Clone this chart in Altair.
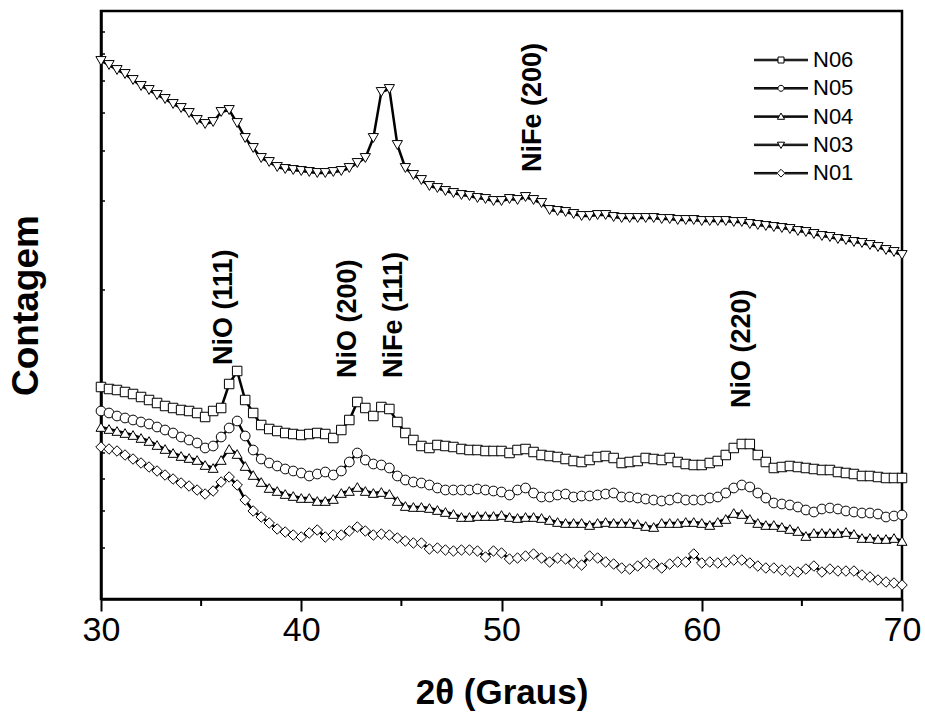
import altair as alt
import pandas as pd

# 2-theta grid (degrees)
two_theta = [round(30 + 0.4 * i, 1) for i in range(101)]

# Intensities (arbitrary units, position on the log-count axis)
n06 = [212, 210, 209, 207, 205, 202, 199, 196, 193, 191, 189,
       188, 186, 182, 188, 191, 215, 228, 199, 186, 174,
       170, 168, 166, 165, 164, 165, 166, 165, 161, 169,
       179, 197, 191, 183, 192, 190, 177, 166, 159, 153,
       151, 154, 153, 152, 150, 149, 149, 148, 148, 148,
       146, 149, 150, 147, 144, 143, 142, 140, 138, 137,
       139, 142, 143, 141, 136, 137, 138, 141, 140, 139,
       141, 137, 135, 134, 134, 136, 138, 144, 151, 155,
       155, 144, 137, 131, 132, 133, 132, 131, 130, 129,
       129, 127, 126, 125, 123, 123, 122, 121, 121, 121]

n05 = [188, 186, 183, 181, 179, 177, 175, 172, 169, 166, 162,
       159, 156, 151, 153, 162, 171, 178, 163, 149, 140,
       136, 133, 130, 128, 126, 123, 125, 127, 124, 128,
       137, 146, 139, 135, 134, 131, 123, 119, 117, 116,
       114, 111, 109, 109, 109, 109, 110, 109, 108, 107,
       104, 109, 111, 106, 102, 102, 104, 105, 102, 103,
       103, 104, 105, 106, 102, 102, 101, 100, 99, 98,
       99, 101, 99, 99, 99, 101, 102, 106, 111, 114,
       112, 106, 101, 96, 95, 94, 92, 89, 87, 90,
       91, 90, 88, 87, 86, 86, 85, 82, 83, 84]

n04 = [172, 170, 168, 166, 164, 161, 158, 154, 150, 146, 143,
       141, 139, 134, 131, 139, 150, 145, 133, 124, 117,
       111, 108, 105, 103, 101, 101, 98, 98, 100, 106,
       108, 112, 108, 106, 107, 105, 98, 93, 92, 92,
       91, 89, 87, 85, 82, 82, 83, 83, 83, 84,
       82, 81, 82, 82, 81, 79, 77, 76, 76, 76,
       74, 76, 77, 76, 76, 76, 75, 73, 72, 76,
       76, 76, 77, 77, 76, 74, 77, 80, 86, 85,
       80, 76, 74, 74, 72, 70, 68, 63, 66, 66,
       66, 66, 67, 65, 61, 61, 60, 60, 61, 58]

n03 = [538, 534, 529, 525, 519, 513, 509, 504, 500, 495, 491,
       486, 479, 475, 477, 487, 489, 476, 461, 451, 441,
       437, 432, 430, 429, 428, 427, 426, 426, 427, 428,
       431, 436, 441, 461, 507, 510, 454, 431, 424, 419,
       413, 411, 408, 406, 404, 403, 401, 400, 398, 398,
       400, 399, 402, 399, 396, 389, 388, 387, 385, 383,
       383, 384, 384, 382, 381, 381, 381, 381, 381, 380,
       380, 379, 379, 379, 378, 378, 378, 378, 377, 377,
       375, 374, 373, 372, 371, 370, 368, 367, 365, 363,
       362, 360, 359, 357, 356, 354, 352, 349, 347, 344]

n01 = [152, 150, 148, 144, 140, 136, 132, 128, 124, 120, 116,
       113, 109, 105, 108, 117, 122, 114, 99, 88, 82,
       76, 70, 67, 64, 62, 66, 69, 62, 64, 64,
       68, 72, 68, 64, 65, 64, 61, 58, 56, 56,
       50, 51, 49, 48, 49, 49, 48, 42, 48, 46,
       40, 41, 43, 45, 41, 37, 41, 40, 36, 34,
       43, 41, 37, 35, 31, 30, 33, 36, 35, 31,
       35, 37, 37, 45, 36, 37, 36, 37, 39, 39,
       36, 33, 31, 31, 29, 28, 27, 30, 33, 27,
       30, 28, 28, 28, 24, 22, 19, 17, 16, 14]

series_names = ["N06", "N05", "N04", "N03", "N01"]
series_values = [n06, n05, n04, n03, n01]
marker_shapes = ["square", "circle", "triangle-up", "triangle-down", "diamond"]
marker_sizes = [90, 110, 160, 160, 150]

# peak labels
peak_labels = ["NiO (111)", "NiO (200)", "NiFe (111)", "NiO (220)", "NiFe (200)"]
peak_x = [36.15, 42.35, 44.65, 62.0, 51.55]
peak_y = [234, 221, 221, 191, 427]

# axis ticks
major_x = [30, 40, 50, 60, 70]
minor_x = [35, 45, 55, 65]
y_tick_values = [51, 88, 120, 146, 169, 189, 208, 309, 398, 448, 486, 518, 545, 567]

FONT = "Liberation Sans"
W, H = 801, 588

rows = []
for name, vals in zip(series_names, series_values):
    for xv, yv in zip(two_theta, vals):
        rows.append({"serie": name, "x": xv, "y": yv})
df = pd.DataFrame(rows)

xscale = alt.Scale(domain=[30, 70], nice=False, zero=False)
yscale = alt.Scale(domain=[0, 588], nice=False, zero=False)

xaxis = alt.Axis(values=major_x, format="d", tickSize=12, tickWidth=2, tickColor="black",
                 labelFont=FONT, labelFontSize=34, labelColor="black", labelPadding=2,
                 domainColor="black", domainWidth=2.5, grid=False,
                 title="2θ (Graus)", titleFont=FONT, titleFontSize=35, titleFontWeight="bold",
                 titleColor="black", titlePadding=28, labelFlush=False)
yaxis = alt.Axis(labels=False, ticks=False, grid=False, domainColor="black", domainWidth=2.5,
                 title="Contagem", titleFont=FONT, titleFontSize=37, titleFontWeight="bold",
                 titleColor="black", titlePadding=56)


def xenc():
    return alt.X("x:Q", scale=xscale, axis=xaxis)


def yenc():
    return alt.Y("y:Q", scale=yscale, axis=yaxis)


ytick_layer = alt.Chart(pd.DataFrame({"y": y_tick_values})).mark_rule(
    color="black", strokeWidth=1.5).encode(y=yenc(), x=alt.value(0), x2=alt.value(4))

minor_layer = alt.Chart(pd.DataFrame({"x": minor_x})).mark_rule(
    color="black", strokeWidth=2).encode(x=xenc(), y=alt.value(H), y2=alt.value(H + 7))

lines = alt.Chart(df).mark_line(color="black", strokeWidth=2.5).encode(
    x=xenc(), y=yenc(), detail="serie:N")

points = alt.Chart(df).mark_point(filled=True, color="white", stroke="black",
                                  strokeWidth=1, opacity=1).encode(
    x=xenc(), y=yenc(),
    shape=alt.Shape("serie:N", scale=alt.Scale(domain=series_names, range=marker_shapes),
                    legend=None),
    size=alt.Size("serie:N", scale=alt.Scale(domain=series_names, range=marker_sizes),
                  legend=None))

ann = alt.Chart(pd.DataFrame({"x": peak_x, "y": peak_y, "label": peak_labels})).mark_text(
    angle=270, align="left", baseline="middle", font=FONT, fontSize=27,
    fontWeight="bold", color="black").encode(x=xenc(), y=yenc(), text="label:N")

# legend symbols: line with marker in the middle
seg = "M-9,-0.25L{a},-0.25M-9,0L{a},0M-9,0.25L{a},0.25M{b},-0.25L9,-0.25M{b},0L9,0M{b},0.25L9,0.25"
legend_paths = [
    seg.format(a=-1, b=1) + "M-1,-1L1,-1L1,1L-1,1Z",
    seg.format(a=-1, b=1) + "M1,0A1,1,0,1,1,-1,0A1,1,0,1,1,1,0Z",
    seg.format(a=-0.7, b=0.7) + "M0,-1.2L1.2,0.9L-1.2,0.9Z",
    seg.format(a=-0.7, b=0.7) + "M0,1.2L1.2,-0.9L-1.2,-0.9Z",
    seg.format(a=-1.3, b=1.3) + "M0,-1.3L1.3,0L0,1.3L-1.3,0Z",
]

legend_layer = alt.Chart(pd.DataFrame({"serie": series_names, "x": [40] * 5, "y": [100] * 5})
                         ).transform_filter("false").mark_point(
    filled=False, color="black", strokeWidth=1, size=36, opacity=1).encode(
    x=xenc(), y=yenc(),
    shape=alt.Shape("serie:N", scale=alt.Scale(domain=series_names, range=legend_paths),
                    legend=alt.Legend(orient="none", legendX=669, legendY=38, title=None,
                                      direction="vertical", padding=0,
                                      labelFont=FONT, labelFontSize=22, labelColor="black",
                                      labelOffset=21, rowPadding=6.3, symbolSize=36,
                                      symbolStrokeWidth=1, symbolStrokeColor="black",
                                      symbolFillColor="white", symbolOpacity=1)))

chart = alt.layer(ytick_layer, lines, points, ann, minor_layer, legend_layer).resolve_scale(
    shape="independent"
).properties(
    width=W, height=H,
    autosize=alt.AutoSizeParams(type="none"),
    padding={"left": 101, "top": 11, "right": 23, "bottom": 118},
    background="white",
).configure_view(stroke="black", strokeWidth=2.5)

chart.save("out.html", embed_options={"renderer": "svg", "actions": False})
